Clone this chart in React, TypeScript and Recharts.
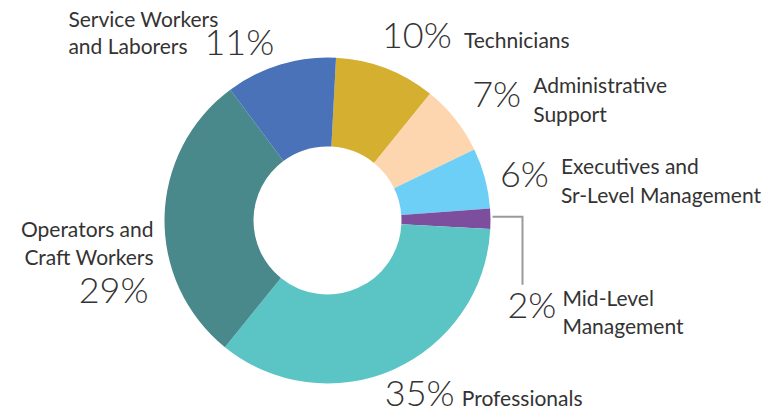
import React from 'react';
import { PieChart, Pie, Cell } from 'recharts';

const categories = [
  'Technicians',
  'Administrative Support',
  'Executives and Sr-Level Management',
  'Mid-Level Management',
  'Professionals',
  'Operators and Craft Workers',
  'Service Workers and Laborers',
];
const shares = [10, 7, 6, 2, 35, 29, 11];
const labelLines = [
  ['Technicians'],
  ['Administrative', 'Support'],
  ['Executives and', 'Sr-Level Management'],
  ['Mid-Level', 'Management'],
  ['Professionals'],
  ['Operators and', 'Craft Workers'],
  ['Service Workers', 'and Laborers'],
];
const colors = ['#D4AF30', '#FDD6B0', '#6DCFF6', '#7E4E9E', '#5BC5C5', '#4A898B', '#4A72B9'];

const data = categories.map((name, i) => ({ name, value: shares[i] }));

// label placement relative to the point on the outer rim at the slice's mid-angle
type Layout = {
  num: { dx: number; dy: number; anchor: 'start' | 'end' };
  text: { dx: number; dy: number; anchor: 'start' | 'end'; lh: number };
  leader?: { x1: number; x2: number; y1: number; y2: number };
};
const layouts: Layout[] = [
  { num: { dx: -4, dy: -20, anchor: 'start' }, text: { dx: 78, dy: -20, anchor: 'start', lh: 28 } },
  { num: { dx: 17, dy: -12, anchor: 'start' }, text: { dx: 78, dy: -26, anchor: 'start', lh: 29 } },
  { num: { dx: 15, dy: 9, anchor: 'start' }, text: { dx: 76, dy: -4, anchor: 'start', lh: 29 } },
  {
    num: { dx: 17, dy: 99, anchor: 'start' },
    text: { dx: 72, dy: 87, anchor: 'start', lh: 28 },
    leader: { x1: 2, x2: 32, y1: -2, y2: 66 },
  },
  { num: { dx: -9, dy: 37, anchor: 'start' }, text: { dx: 68, dy: 37, anchor: 'start', lh: 28 } },
  { num: { dx: -16, dy: 86, anchor: 'end' }, text: { dx: -11, dy: 20, anchor: 'end', lh: 28 } },
  { num: { dx: -76, dy: -9.5, anchor: 'start' }, text: { dx: -212, dy: -37.5, anchor: 'start', lh: 27 } },
];

const RADIAN = Math.PI / 180;
const FONT = 'Lato, "Noto Sans", sans-serif';
const TEXT_COLOR = '#333333';

const renderLabel = (props: any) => {
  const { cx, cy, midAngle, outerRadius, index } = props;
  const ax = cx + outerRadius * Math.cos(-midAngle * RADIAN);
  const ay = cy + outerRadius * Math.sin(-midAngle * RADIAN);
  const L = layouts[index];
  const lines = labelLines[index];
  return (
    <g key={`lbl-${index}`}>
      {L.leader && (
        <polyline
          points={`${ax + L.leader.x1},${ay + L.leader.y1} ${ax + L.leader.x2},${ay + L.leader.y1} ${ax + L.leader.x2},${ay + L.leader.y2}`}
          fill="none"
          stroke="#9a9a9a"
          strokeWidth={2}
        />
      )}
      <text
        x={ax + L.num.dx}
        y={ay + L.num.dy}
        textAnchor={L.num.anchor}
        fontFamily={FONT}
        fontWeight={300}
        fontSize={36}
        fill={TEXT_COLOR}
      >
        {`${shares[index]}%`}
      </text>
      {lines.map((ln, j) => (
        <text
          key={j}
          x={ax + L.text.dx}
          y={ay + L.text.dy + j * L.text.lh}
          textAnchor={L.text.anchor}
          fontFamily={FONT}
          fontWeight={400}
          fontSize={21}
          fill={TEXT_COLOR}
        >
          {ln}
        </text>
      ))}
    </g>
  );
};

export default function App() {
  return (
    <div style={{ position: 'fixed', left: 0, top: 0, background: '#fff' }}>
      <PieChart width={783} height={414} margin={{ top: 0, right: 0, bottom: 0, left: 0 }}>
        <Pie
          data={data}
          dataKey="value"
          nameKey="name"
          cx={327.5}
          cy={220.5}
          innerRadius={74}
          outerRadius={163}
          startAngle={87}
          endAngle={-273}
          stroke="none"
          isAnimationActive={false}
          labelLine={false}
          label={renderLabel}
        >
          {data.map((d, i) => (
            <Cell key={d.name} fill={colors[i]} />
          ))}
        </Pie>
      </PieChart>
    </div>
  );
}
